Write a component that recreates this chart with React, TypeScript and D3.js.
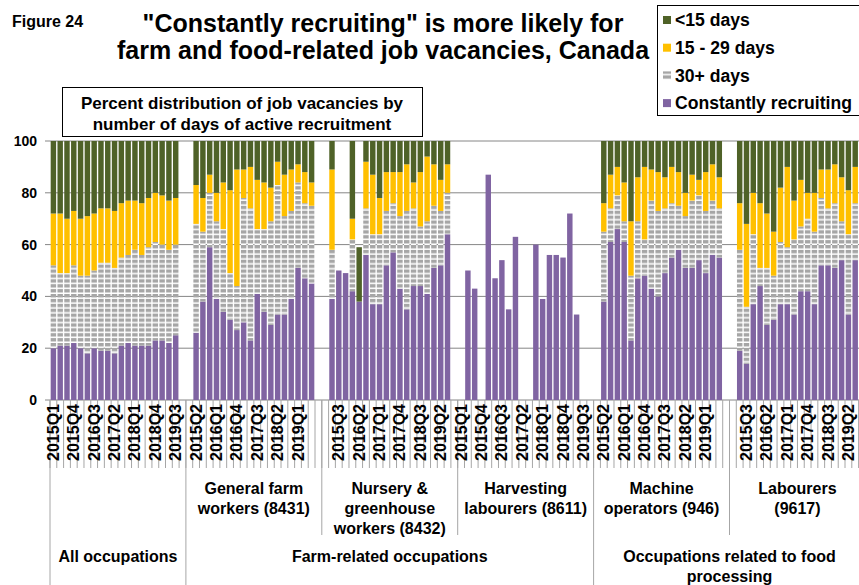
import React from "react";
import * as d3 from "d3";

// quarters shown for every occupation group (blank slot follows each group)
const quarters = [
  "2015Q1", "2015Q2", "2015Q3", "2015Q4",
  "2016Q1", "2016Q2", "2016Q3", "2016Q4",
  "2017Q1", "2017Q2", "2017Q3", "2017Q4",
  "2018Q1", "2018Q2", "2018Q3", "2018Q4",
  "2019Q1", "2019Q2", "2019Q3",
];

const groupLabels: string[][] = [
  [],
  ["General farm", "workers (8431)"],
  ["Nursery &", "greenhouse", "workers (8432)"],
  ["Harvesting", "labourers (8611)"],
  ["Machine", "operators (946)"],
  ["Labourers", "(9617)"],
];

const sectorLabels: string[][] = [
  ["All occupations"],
  ["Farm-related occupations"],
  ["Occupations related to food", "processing"],
];
const sectorGroupCounts = [1, 3, 2];

const yTicks = [0, 20, 40, 60, 80, 100];

type V = number | null;

// percent, one row per group, one value per quarter
const constantlyRecruiting: V[][] = [
  [20, 21, 21, 22, 20, 18, 20, 19, 19, 18, 21, 22, 21, 21, 21, 23, 23, 22, 25],
  [null, 26, 38, 59, 39, 34, 31, 27, 30, 23, 41, 34, 29, 33, 33, 39, 51, 47, 45],
  [null, 39, 50, 49, 42, 38, 56, 37, 37, 52, 57, 43, 35, 44, 44, 41, 51, 52, 64],
  [null, 50, 43, null, 87, 47, 54, 35, 63, null, null, 60, 39, 56, 56, 55, 72, 33, null],
  [null, 38, 61, 66, 61, 23, 47, 48, 43, 40, 49, 55, 58, 51, 51, 54, 49, 56, 55],
  [null, 19, 14, 37, 44, 29, 31, 37, 37, 33, 42, 42, 37, 52, 52, 51, 54, 33, 54],
];

const days30Plus: V[][] = [
  [32, 28, 28, 30, 28, 30, 30, 34, 34, 33, 34, 34, 37, 35, 38, 38, 37, 36, 35],
  [null, 42, 27, 21, 30, 32, 18, 17, 48, 51, 25, 32, 40, 50, 38, 34, 33, 29, 30],
  [null, 19, null, null, 20, null, 18, 27, 27, 21, 19, 28, 38, 30, 23, 28, 24, 21, 16],
  [null, null, null, null, null, null, null, null, null, null, null, null, null, null, null, null, null, null, null],
  [null, 27, 13, 13, 8, 25, 22, 14, 34, 33, 25, 21, 17, 20, 26, 25, 24, 21, 19],
  [null, 39, 22, 27, 7, 22, 17, 24, 22, 29, 25, 28, 28, 26, 22, 25, 15, 31, 22],
];

const days15to29: V[][] = [
  [20, 23, 21, 21, 22, 23, 22, 21, 21, 22, 21, 21, 19, 20, 19, 19, 19, 19, 18],
  [null, 15, 13, 7, 11, 18, 32, 45, 11, 16, 19, 18, 13, 9, 16, 16, 7, 12, 9],
  [null, 31, null, null, 8, null, 18, 23, 14, 15, 12, 17, 18, 10, 21, 25, 16, 12, 11],
  [null, null, null, null, null, null, null, null, null, null, null, null, null, null, null, null, null, null, null],
  [null, 11, 13, 11, 15, 21, 17, 28, 12, 15, 12, 14, 13, 9, 10, 6, 15, 14, 12],
  [null, 18, 32, 16, 25, 21, 17, 21, 31, 15, 18, 10, 15, 11, 15, 15, 17, 17, 14],
];

const daysUnder15: V[][] = [
  [28, 28, 30, 27, 30, 29, 28, 26, 26, 27, 24, 23, 23, 24, 22, 20, 21, 23, 22],
  [null, 17, 22, 13, 20, 16, 19, 11, 11, 10, 15, 16, 18, 8, 13, 11, 9, 12, 16],
  [null, 11, null, null, 30, 21, 8, 13, 22, 12, 12, 12, 9, 16, 12, 6, 9, 15, 9],
  [null, null, null, null, null, null, null, null, null, null, null, null, null, null, null, null, null, null, null],
  [null, 24, 13, 10, 16, 31, 14, 10, 11, 12, 14, 10, 12, 20, 13, 15, 12, 9, 14],
  [null, 24, 32, 20, 24, 28, 35, 18, 10, 23, 15, 20, 20, 11, 11, 9, 14, 19, 10],
];

const series = [
  { name: "Constantly recruiting", values: constantlyRecruiting, fill: "#8064A2" },
  { name: "30+ days", values: days30Plus, fill: "url(#dashH)" },
  { name: "15 - 29 days", values: days15to29, fill: "#FFC000" },
  { name: "<15 days", values: daysUnder15, fill: "#4F6228" },
];

const W = 859;
const H = 585;
const SLOTS = 20; // 19 quarters + 1 blank per group
const FONT = "'Liberation Sans', Arial, Helvetica, sans-serif";

export default function App() {
  const nSlots = groupLabels.length * SLOTS;
  const x = d3
    .scaleBand<number>()
    .domain(d3.range(nSlots))
    .range([50, 50 + nSlots * 6.795])
    .paddingInner(0.2)
    .paddingOuter(0.1);
  const step = x.step();
  const x0 = 50;
  const y = d3.scaleLinear().domain([0, 100]).range([400, 141]);
  const edge = (k: number) => x0 + k * step;

  const rects: React.ReactNode[] = [];
  groupLabels.forEach((_, g) => {
    quarters.forEach((_q, q) => {
      let base = 0;
      series.forEach((s, si) => {
        const v = s.values[g][q];
        if (v == null || v <= 0) return;
        const top = base + v;
        rects.push(
          <rect
            key={`${g}-${q}-${si}`}
            x={x(g * SLOTS + q)}
            width={x.bandwidth()}
            y={y(top)}
            height={y(base) - y(top)}
            fill={s.fill}
          />
        );
        base = top;
      });
    });
  });

  // sector boundaries in slot units
  const sectorEdges: number[] = [0];
  sectorGroupCounts.forEach((c) => sectorEdges.push(sectorEdges[sectorEdges.length - 1] + c * SLOTS));

  const legend = [
    { label: "<15 days", fill: "#4F6228" },
    { label: "15 - 29 days", fill: "#FFC000" },
    { label: "30+ days", fill: "url(#dashH)" },
    { label: "Constantly recruiting", fill: "#8064A2" },
  ];

  return (
    <svg
      width={W}
      height={H}
      style={{ position: "absolute", left: 0, top: 0, background: "#fff" }}
      fontFamily={FONT}
      fontWeight="bold"
    >
      <defs>
        <pattern id="dashH" width="6" height="4.9" patternUnits="userSpaceOnUse">
          <rect width="6" height="4.9" fill="#fff" />
          <rect width="6" height="3.4" fill="#A6A6A6" />
        </pattern>
      </defs>

      {/* gridlines */}
      {yTicks.map((t) => (
        <g key={t}>
          <line x1={45} x2={W} y1={y(t)} y2={y(t)} stroke="#868686" strokeWidth={1} />
          <text x={37} y={y(t)} dy="0.35em" textAnchor="end" fontSize={14} fill="#000">
            {t}
          </text>
        </g>
      ))}

      {rects}

      {/* category tick lines */}
      {d3.range(nSlots + 1).map((k) => (
        <line key={k} x1={edge(k)} x2={edge(k)} y1={400} y2={468} stroke="#A6A6A6" strokeWidth={1} />
      ))}
      {groupLabels.map((_, g) =>
        g > 0 && !sectorEdges.includes(g * SLOTS) ? (
          <line key={g} x1={edge(g * SLOTS)} x2={edge(g * SLOTS)} y1={400} y2={535} stroke="#A6A6A6" />
        ) : null
      )}
      {sectorEdges.map((k) => (
        <line key={`s${k}`} x1={edge(k)} x2={edge(k)} y1={400} y2={H} stroke="#A6A6A6" />
      ))}

      {/* quarter labels */}
      {groupLabels.map((_, g) =>
        quarters.map((qt, q) => {
          const slot = g * SLOTS + q;
          if (slot % 3 !== 0) return null;
          const cx = x(slot)! + x.bandwidth() / 2;
          return (
            <text
              key={`${g}-${q}`}
              transform={`translate(${cx + 5.5},404) rotate(-90)`}
              textAnchor="end"
              fontSize={16}
              fill="#000"
            >
              {qt}
            </text>
          );
        })
      )}

      {/* group labels */}
      {groupLabels.map((lines, g) => {
        const cx = edge(g * SLOTS + SLOTS / 2);
        return lines.map((ln, i) => (
          <text key={`${g}-${i}`} x={cx} y={494 + i * 20} textAnchor="middle" fontSize={16} fill="#000">
            {ln}
          </text>
        ));
      })}

      {/* sector labels */}
      {sectorLabels.map((lines, s) => {
        const cx = (edge(sectorEdges[s]) + edge(sectorEdges[s + 1])) / 2;
        return lines.map((ln, i) => (
          <text key={`${s}-${i}`} x={cx} y={562 + i * 20} textAnchor="middle" fontSize={16} fill="#000">
            {ln}
          </text>
        ));
      })}

      {/* titles */}
      <text x={12} y={27} fontSize={16} fill="#000">Figure 24</text>
      <text x={383} y={32} textAnchor="middle" fontSize={25} fill="#000">
        "Constantly recruiting" is more likely for
      </text>
      <text x={383} y={59} textAnchor="middle" fontSize={25} fill="#000">
        farm and food-related job vacancies, Canada
      </text>

      <rect x={62.5} y={87.5} width={360} height={49} fill="#fff" stroke="#000" />
      <text x={242} y={109} textAnchor="middle" fontSize={17} fill="#000">
        Percent distribution of job vacancies by
      </text>
      <text x={242} y={130} textAnchor="middle" fontSize={17} fill="#000">
        number of days of active recruitment
      </text>

      {/* legend */}
      <rect x={657.5} y={5.5} width={215} height={110} fill="#fff" stroke="#000" />
      {legend.map((l, i) => (
        <g key={l.label} transform={`translate(663,${20 + i * 27.7})`}>
          <rect x={0} y={-4} width={8} height={8} fill={l.fill} />
          <text x={12} y={0} dy="0.36em" fontSize={17.6} fill="#000">
            {l.label}
          </text>
        </g>
      ))}
    </svg>
  );
}
